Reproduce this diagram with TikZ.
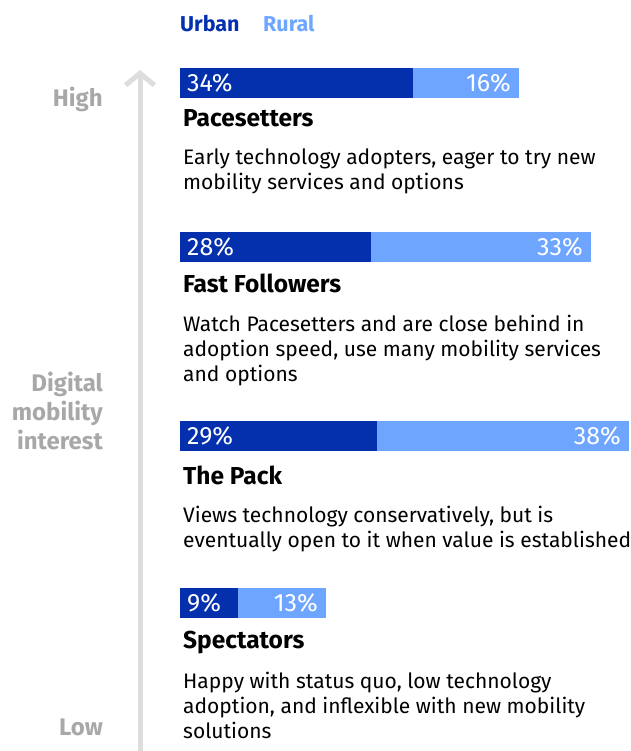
\documentclass[tikz,border=0pt]{standalone}
\usepackage{fontspec}
\setmainfont{Fira Sans}
\usetikzlibrary{arrows.meta, positioning}
\definecolor{urbanblue}{HTML}{0530AD}
\definecolor{ruralblue}{HTML}{6EA6FF}
\definecolor{axisgrey}{HTML}{DDDDDD}
\definecolor{labelgrey}{HTML}{A8A8A8}
\tikzset{Segments/.style={
    x = 1pt, y = -1pt,
    urban/.style = {fill=urbanblue, anchor=north west, minimum height=30pt, inner sep=0pt, outer sep=0pt},
    rural/.style = {fill=ruralblue, minimum height=30pt, inner sep=0pt, outer sep=0pt},
    pct/.style = {text=white, inner sep=0pt, font=\fontsize{25}{25}\selectfont},
    group/.style = {anchor=base west, inner sep=0pt, font=\fontsize{24.5}{26}\selectfont\bfseries},
    blurb/.style = {anchor=base west, inner sep=0pt, align=left, font=\fontsize{21}{25}\selectfont},
    level/.style = {anchor=base east, inner sep=0pt, align=right, text=labelgrey, font=\fontsize{24}{29}\selectfont\bfseries}
}}

\begin{document}
\begin{tikzpicture}[Segments]
    \useasboundingbox (0,0) rectangle (630,751);

    % legend
    \node [anchor=base west, inner sep=0pt, text=urbanblue, font=\fontsize{21.5}{22}\selectfont\bfseries] (urban) at (180,32) {Urban};
    \node [anchor=base west, inner sep=0pt, text=ruralblue, font=\fontsize{21.5}{22}\selectfont\bfseries] (rural) at (263,32) {Rural};

    % axis
    \coordinate (axisbot) at (140,751);
    \coordinate (axistop) at (140,70);
    \draw [axisgrey, line width=5pt, -{Straight Barb[length=12pt, width=29pt, line width=5pt]}] (axisbot) -- (axistop);
    \node [level] (high) at (103,107) {High};
    \node [level] (interest) at (103,449) {Digital\\mobility\\interest};
    \node [level] (low) at (103,735) {Low};

    % Pacesetters
    \node [urban, minimum width=233pt] (u1) at (180,68) {};
    \node [rural, minimum width=106pt, right=0pt of u1] (r1) {};
    \node [pct, anchor=west] at ([xshift=7pt]u1.west) {34\%};
    \node [pct, anchor=east] at ([xshift=-8pt]r1.east) {16\%};
    \node [group] (g1) at (183,127) {Pacesetters};
    \node [blurb] (d1) at (183,190) {Early technology adopters, eager to try new\\mobility services and options};

    % Fast Followers
    \node [urban, minimum width=191pt] (u2) at (180,232) {};
    \node [rural, minimum width=220pt, right=0pt of u2] (r2) {};
    \node [pct, anchor=west] at ([xshift=7pt]u2.west) {28\%};
    \node [pct, anchor=east] at ([xshift=-8pt]r2.east) {33\%};
    \node [group] (g2) at (183,292) {Fast Followers};
    \node [blurb] (d2) at (183,381) {Watch Pacesetters and are close behind in\\adoption speed, use many mobility services\\and options};

    % The Pack
    \node [urban, minimum width=197pt] (u3) at (180,421) {};
    \node [rural, minimum width=252pt, right=0pt of u3] (r3) {};
    \node [pct, anchor=west] at ([xshift=7pt]u3.west) {29\%};
    \node [pct, anchor=east] at ([xshift=-8pt]r3.east) {38\%};
    \node [group] (g3) at (183,484) {The Pack};
    \node [blurb] (d3) at (183,547) {Views technology conservatively, but is\\eventually open to it when value is established};

    % Spectators
    \node [urban, minimum width=58pt] (u4) at (180,588) {};
    \node [rural, minimum width=88pt, right=0pt of u4] (r4) {};
    \node [pct, anchor=west] at ([xshift=7pt]u4.west) {9\%};
    \node [pct, anchor=east] at ([xshift=-8pt]r4.east) {13\%};
    \node [group] (g4) at (183,648) {Spectators};
    \node [blurb] (d4) at (183,738) {Happy with status quo, low technology\\adoption, and inflexible with new mobility\\solutions};
\end{tikzpicture}
\end{document}
